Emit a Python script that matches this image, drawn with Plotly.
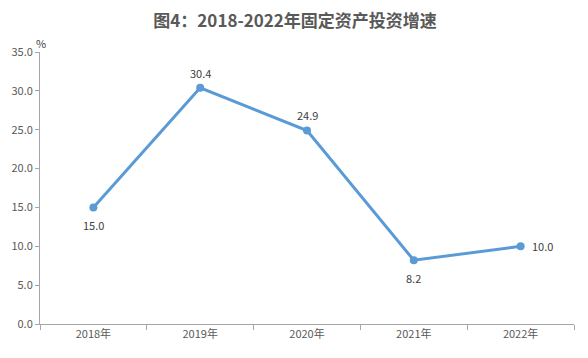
import plotly.graph_objects as go

categories = ["2018年", "2019年", "2020年", "2021年", "2022年"]
values = [15.0, 30.4, 24.9, 8.2, 10.0]
label_pos = ["below", "above", "above", "below", "right"]
y_ticks = [0, 5, 10, 15, 20, 25, 30, 35]

grey = "#595959"
axis_grey = "#A6A6A6"
font_family = "Microsoft YaHei, Noto Sans CJK SC, sans-serif"

fig = go.Figure()
fig.add_trace(go.Scatter(
    x=categories, y=values, mode="lines+markers",
    line=dict(color="#5B9BD5", width=3),
    marker=dict(color="#5B9BD5", size=8),
    hoverinfo="skip", showlegend=False,
))

for c, v, p in zip(categories, values, label_pos):
    if p == "above":
        fig.add_annotation(x=c, y=v, text=f"{v:.1f}", showarrow=False, yshift=15,
                           font=dict(size=11, color="#404040", family=font_family))
    elif p == "below":
        fig.add_annotation(x=c, y=v, text=f"{v:.1f}", showarrow=False, yshift=-18,
                           font=dict(size=11, color="#404040", family=font_family))
    else:
        fig.add_annotation(x=c, y=v, text=f"{v:.1f}", showarrow=False, xshift=22,
                           font=dict(size=11, color="#404040", family=font_family))

fig.add_annotation(x=0, y=1, xref="paper", yref="paper", text="%", showarrow=False,
                   xshift=-6, yshift=19,
                   font=dict(size=11, color="#404040", family=font_family))

fig.update_layout(
    width=580, height=350,
    margin=dict(l=32, r=14, t=44, b=34),
    paper_bgcolor="white", plot_bgcolor="white",
    title=dict(text="<b>图4：2018-2022年固定资产投资增速</b>", x=0.495, xanchor="center",
               y=0.963, yanchor="middle",
               font=dict(size=17, color=grey, family="Noto Sans CJK SC, sans-serif")),
    xaxis=dict(type="category", showline=True, linecolor=axis_grey, linewidth=1,
               ticks="outside", tickson="boundaries", ticklen=5, tickcolor=axis_grey,
               showgrid=False, automargin=False,
               tickfont=dict(size=11, color=grey, family=font_family),
               range=[-0.5, 4.5]),
    yaxis=dict(range=[0, 35], tickvals=y_ticks, tickformat=".1f", showline=True,
               linecolor=axis_grey, linewidth=1, ticks="outside", ticklen=4,
               tickcolor=axis_grey, showgrid=False, zeroline=False, automargin=False,
               tickfont=dict(size=11, color=grey, family=font_family)),
    font=dict(family=font_family),
)

fig.write_html("out.html", config={"displayModeBar": False})
